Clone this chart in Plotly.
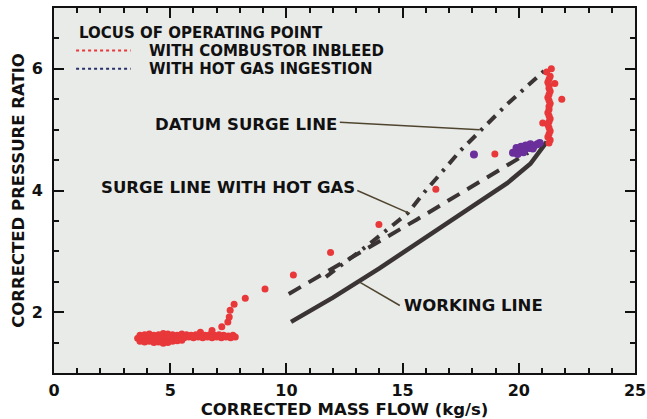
import plotly.graph_objects as go

# ---------------- data ----------------
# Locus of operating point with combustor inbleed (red)
inbleed_x = [
    # dense low-flow cluster, top row
    3.7, 3.9, 4.1, 4.3, 4.5, 4.7, 4.9, 5.1, 5.3, 5.5, 5.7, 5.9, 6.1, 6.3, 6.5, 6.7, 6.9, 7.1, 7.3, 7.5, 7.7,
    # middle row
    3.6, 3.8, 4.0, 4.2, 4.4, 4.6, 4.8, 5.0, 5.2, 5.4, 5.6, 5.8, 6.0, 6.2, 6.4, 6.6, 6.8, 7.0, 7.2, 7.4, 7.6, 7.8,
    # bottom row
    3.7, 3.9, 4.1, 4.3, 4.5, 4.7, 4.9, 5.1, 5.3, 5.5,
    # transition points
    6.3, 6.8, 7.22, 7.48, 7.54, 7.58, 7.75, 8.23, 9.08, 10.3, 11.9, 13.98, 16.43, 18.97, 21.03, 21.85, 21.55,
    # vertical column at high flow
    21.3, 21.35, 21.25, 21.3, 21.35, 21.3, 21.25, 21.3, 21.35, 21.3, 21.25, 21.3, 21.3,
    21.35, 21.3, 21.25, 21.3, 21.35, 21.3, 21.3, 21.25, 21.3, 21.35, 21.2, 21.4,
]
inbleed_y = [
    1.62, 1.63, 1.64, 1.62, 1.63, 1.65, 1.64, 1.63, 1.62, 1.64, 1.63, 1.62, 1.63, 1.64, 1.62, 1.63, 1.62, 1.63, 1.62, 1.61, 1.62,
    1.57, 1.58, 1.56, 1.57, 1.58, 1.57, 1.56, 1.57, 1.58, 1.57, 1.58, 1.59, 1.58, 1.59, 1.58, 1.59, 1.58, 1.59, 1.58, 1.59, 1.58, 1.59,
    1.52, 1.51, 1.52, 1.50, 1.51, 1.49, 1.50, 1.52, 1.53, 1.54,
    1.67, 1.70, 1.76, 1.84, 1.92, 2.03, 2.13, 2.23, 2.38, 2.61, 2.98, 3.44, 4.02, 4.60, 5.11, 5.50, 5.76,
    4.78, 4.83, 4.88, 4.93, 4.98, 5.03, 5.08, 5.13, 5.18, 5.23, 5.28, 5.33, 5.38,
    5.43, 5.48, 5.53, 5.58, 5.63, 5.68, 5.73, 5.78, 5.83, 5.88, 5.95, 6.0,
]

# Locus of operating point with hot gas ingestion (purple)
hotgas_x = [18.07, 19.75, 19.9, 19.9, 20.05, 20.1, 20.25, 20.3, 20.45, 20.5, 20.65, 20.8, 20.9, 20.6, 20.2, 19.95]
hotgas_y = [4.59, 4.62, 4.64, 4.70, 4.66, 4.72, 4.68, 4.74, 4.70, 4.76, 4.73, 4.76, 4.78, 4.69, 4.63, 4.60]

# Working line
working_x = [10.2, 12.0, 14.0, 16.0, 18.0, 19.5, 20.5, 21.2]
working_y = [1.84, 2.24, 2.72, 3.22, 3.74, 4.12, 4.44, 4.80]

# Surge line with hot gas (dashed)
hotsurge_x = [10.1, 13.0, 15.6, 20.4]
hotsurge_y = [2.30, 2.95, 3.52, 4.62]

# Datum surge line (dash-dot)
datum_x = [11.7, 13.5, 15.2, 16.0, 17.5, 19.5, 21.1]
datum_y = [2.58, 3.10, 3.62, 4.00, 4.66, 5.42, 5.97]

x_ticks = [0, 5, 10, 15, 20, 25]
y_ticks = [2, 4, 6]

FONT = "DejaVu Sans, Liberation Sans, Arial, sans-serif"
INK = "#3a3434"
RED = "#e8383a"
PURPLE = "#6a2f9a"
NAVY = "#2a2f6a"
POINTER = "#4f452f"
TXT = "#111111"

fig = go.Figure()

fig.add_trace(go.Scatter(x=working_x, y=working_y, mode="lines",
                         line=dict(color=INK, width=4.5), showlegend=False))
fig.add_trace(go.Scatter(x=hotsurge_x, y=hotsurge_y, mode="lines",
                         line=dict(color=INK, width=4, dash="14px,9px"), showlegend=False))
fig.add_trace(go.Scatter(x=datum_x, y=datum_y, mode="lines",
                         line=dict(color=INK, width=4, dash="11px,7px,3px,7px"), showlegend=False))
fig.add_trace(go.Scatter(x=inbleed_x, y=inbleed_y, mode="markers",
                         marker=dict(color=RED, size=7, line=dict(width=0)), showlegend=False))
fig.add_trace(go.Scatter(x=hotgas_x, y=hotgas_y, mode="markers",
                         marker=dict(color=PURPLE, size=8, line=dict(width=0)), showlegend=False))

# pointer lines for labels
pointers = [
    (12.3, 5.12, 18.32, 5.00),
    (13.05, 4.00, 15.32, 3.62),
    (14.88, 2.11, 13.17, 2.49),
]
for x0, y0, x1, y1 in pointers:
    fig.add_shape(type="line", xref="x", yref="y", x0=x0, y0=y0, x1=x1, y1=y1,
                  line=dict(color=POINTER, width=1.5))

# legend sample lines
fig.add_shape(type="line", xref="x", yref="y", x0=0.95, x1=3.3, y0=6.30, y1=6.30,
              line=dict(color=RED, width=2, dash="dot"))
fig.add_shape(type="line", xref="x", yref="y", x0=0.95, x1=3.3, y0=6.0, y1=6.0,
              line=dict(color=NAVY, width=2, dash="dot"))

legend_labels = [
    ("LOCUS OF OPERATING POINT", 1.05, 6.59),
    ("WITH COMBUSTOR INBLEED", 4.06, 6.30),
    ("WITH HOT GAS INGESTION", 4.06, 6.00),
]
for txt, x, y in legend_labels:
    fig.add_annotation(x=x, y=y, xref="x", yref="y", text=txt, showarrow=False,
                       xanchor="left", yanchor="middle", borderpad=0,
                       font=dict(family=FONT, size=15, color=TXT, weight="bold"))

labels = [
    ("DATUM SURGE LINE", 12.2, 5.08, "right"),
    ("SURGE LINE WITH HOT GAS", 13.0, 4.05, "right"),
    ("WORKING LINE", 15.0, 2.115, "left"),
]
for txt, x, y, anc in labels:
    fig.add_annotation(x=x, y=y, xref="x", yref="y", text=txt, showarrow=False,
                       xanchor=anc, yanchor="middle", borderpad=0,
                       font=dict(family=FONT, size=16.5, color=TXT, weight="bold"))

axis_common = dict(
    showline=True, linewidth=2, linecolor=TXT, mirror="ticks",
    ticks="inside", ticklen=10, tickwidth=2, tickcolor=TXT,
    showgrid=False, zeroline=False, automargin=False,
    tickfont=dict(family=FONT, size=16, color=TXT, weight="bold"),
)

fig.update_xaxes(range=[0, 25], tickvals=x_ticks, ticklabelstandoff=2,
                 minor=dict(dtick=1, ticks="inside", ticklen=5, tickwidth=2, tickcolor=TXT),
                 title=dict(text="CORRECTED MASS FLOW (kg/s)", standoff=4,
                            font=dict(family=FONT, size=16.5, color=TXT, weight="bold")),
                 **axis_common)
fig.update_yaxes(range=[1, 7], tickvals=y_ticks, ticklabelstandoff=6,
                 minor=dict(dtick=0.5, ticks="inside", ticklen=5, tickwidth=2, tickcolor=TXT),
                 title=dict(text="CORRECTED PRESSURE RATIO", standoff=3,
                            font=dict(family=FONT, size=16.5, color=TXT, weight="bold")),
                 **axis_common)

fig.update_layout(
    width=647, height=419,
    margin=dict(l=54, r=12, t=8, b=46),
    paper_bgcolor="#ffffff", plot_bgcolor="#e9ebe9",
    showlegend=False,
)

fig.write_html("out.html")
